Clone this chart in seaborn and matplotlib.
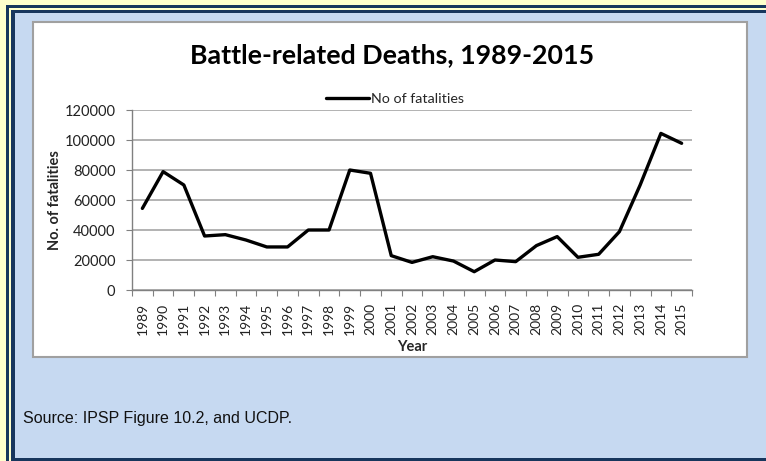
import matplotlib
matplotlib.use("Agg")
import matplotlib.pyplot as plt
import seaborn as sns
import pandas as pd
from matplotlib.patches import Rectangle
from matplotlib.lines import Line2D

years = list(range(1989, 2016))
fatalities = [54400, 78900, 70000, 36000, 36900, 33300, 28700, 28700, 40000, 40000,
              80000, 77800, 22900, 18400, 22200, 19300, 12200, 20000, 18900, 29600,
              35600, 21800, 23800, 38900, 70000, 104400, 97800]
yticks = [0, 20000, 40000, 60000, 80000, 100000, 120000]
title = "Battle-related Deaths, 1989-2015"
series_name = "No of fatalities"
source = "Source: IPSP Figure 10.2, and UCDP."

df = pd.DataFrame({"Year": years, series_name: fatalities})

sns.set_style("white")
plt.rcParams['font.family'] = ['Lato', 'DejaVu Sans']

W, H = 766, 461
fig = plt.figure(figsize=(W / 100, H / 100), dpi=100)
fig.patch.set_facecolor("#FFFFCC")

def px_rect(x0, y0, x1, y1, **kw):
    r = Rectangle((x0 / W, 1 - y1 / H), (x1 - x0) / W, (y1 - y0) / H,
                  transform=fig.transFigure, **kw)
    fig.add_artist(r)
    return r

navy = "#17365D"
px_rect(6, 5, 800, 470, facecolor=navy, edgecolor="none", zorder=0)
px_rect(9, 8, 800, 470, facecolor="#FFFFCC", edgecolor="none", zorder=0)
px_rect(11, 10, 800, 461, facecolor=navy, edgecolor="none", zorder=0)
px_rect(15, 13, 800, 458, facecolor="#C6D9F1", edgecolor="none", zorder=0)
px_rect(33, 22, 747, 357, facecolor="white", edgecolor="#A0A0A0", linewidth=1.5, zorder=0)

ax = fig.add_axes([132 / W, 1 - 290 / H, (692 - 132) / W, (290 - 110) / H])
ax.set_facecolor("none")
sns.lineplot(data=df, x="Year", y=series_name, ax=ax, color="black", linewidth=2.4,
             legend=False)

ax.set_xlim(1988.5, 2015.5)
ax.set_ylim(0, 120000)
ax.set_yticks(yticks)
ax.set_yticklabels([str(v) for v in yticks], fontsize=10.5, color="#222222")
ax.yaxis.grid(True, color="#A6A6A6", linewidth=1.2)
ax.xaxis.grid(False)

ax.set_xticks([y - 0.5 for y in years] + [2015.5])
ax.set_xticklabels([])
ax.set_xticks(years, minor=True)
ax.set_xticklabels([str(y) for y in years], minor=True, rotation=90, fontsize=10,
                   color="#222222")
ax.tick_params(axis="x", which="major", direction="out", length=4, color="#808080",
               bottom=True)
ax.tick_params(axis="x", which="minor", length=0, pad=9, bottom=True)
ax.tick_params(axis="y", direction="out", length=4, color="#808080", left=True, pad=8)

for s in ["top", "right"]:
    ax.spines[s].set_visible(False)
for s in ["left", "bottom"]:
    ax.spines[s].set_color("#808080")
    ax.spines[s].set_linewidth(1.0)

ax.set_xlabel("Year", fontsize=10.5, fontweight="bold", labelpad=4)
ax.set_ylabel("No. of fatalities", fontsize=10.5, fontweight="bold", labelpad=2)

fig.text(392 / W, 1 - 55 / H, title, ha="center", va="center", fontsize=19.3,
         fontweight="bold", color="black")

handle = Line2D([], [], color="black", linewidth=2.4)
fig.legend([handle], [series_name], loc="center", bbox_to_anchor=(395 / W, 1 - 99 / H),
           frameon=False, fontsize=10.3, handlelength=3.0, handletextpad=0.1,
           borderaxespad=0, borderpad=0)

fig.text(23 / W, 1 - 418 / H, source, ha="left", va="center", fontsize=11.5,
         family=['Liberation Sans Narrow', 'Liberation Sans', 'DejaVu Sans'], color="#111111")

fig.savefig("out.png", dpi=100, facecolor=fig.get_facecolor())
